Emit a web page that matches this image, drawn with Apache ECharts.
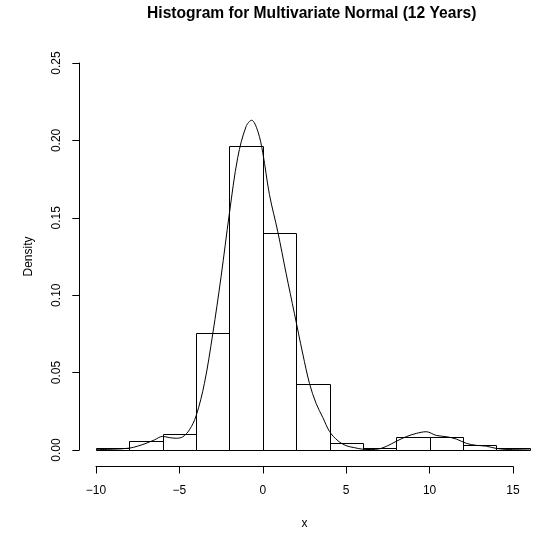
<!DOCTYPE html>
<html><head><meta charset="utf-8">
<script src="https://cdn.jsdelivr.net/npm/echarts@6/dist/echarts.min.js"></script>
<style>html,body{margin:0;padding:0;background:#fff}#c{width:539px;height:535px}</style>
</head><body><div id="c"></div>
<script>
const titleText = 'Histogram for Multivariate Normal (12 Years)';
const breaks = [-10,-8,-6,-4,-2,0,2,4,6,8,10,12,14,16];
const densities = [0.001,0.006,0.0104,0.0757,0.1966,0.1404,0.0428,0.0045,0.001,0.0082,0.0082,0.0032,0.001];
const curveX = [-10.0,-9.0,-8.0,-7.5,-7.0,-6.5,-6.0,-5.6,-5.2,-4.8,-4.4,-4.0,-3.5,-3.0,-2.5,-2.0,-1.5,-1.0,-0.67,-0.3,0.0,0.4,0.9,1.4,1.9,2.4,2.8,3.2,3.6,4.0,4.5,5.0,5.5,6.0,6.5,7.0,7.4,8.0,8.6,9.2,9.8,10.4,11.0,11.6,12.2,12.8,13.4,14.0,14.8,16.0];
const curveY = [0.0002,0.0005,0.0012,0.0025,0.0043,0.0065,0.0088,0.0080,0.0076,0.0085,0.0130,0.0220,0.043,0.075,0.112,0.153,0.189,0.209,0.213,0.206,0.192,0.165,0.141,0.114,0.088,0.062,0.043,0.030,0.021,0.012,0.006,0.0028,0.0015,0.0005,0.0003,0.0008,0.0023,0.0056,0.0086,0.0107,0.0118,0.0094,0.0086,0.0071,0.0043,0.0030,0.0025,0.0010,0.0003,0.0];
const xTicks = [-10,-5,0,5,10,15];
const yTicks = [0,0.05,0.10,0.15,0.20,0.25];
const xLabel = 'x';
const yLabel = 'Density';

const FONT = '"Liberation Sans", Arial, Helvetica, sans-serif';
const binData = densities.map((d, i) => [breaks[i], breaks[i+1], d]);
const lineData = curveX.map((x, i) => [x, curveY[i]]);

const chart = echarts.init(document.getElementById('c'), null, {renderer: 'canvas'});
chart.setOption({
  animation: false,
  backgroundColor: '#fff',
  title: {
    text: titleText, left: 311.7, top: 6, textAlign: 'center', padding: 0,
    textStyle: {fontFamily: FONT, fontSize: 15.6, fontWeight: 'bold', color: '#000'}
  },
  grid: [
    {left: 79.3, top: 63, width: 458.7, height: 387, containLabel: false},
    {left: 96, top: 63, width: 417, height: 403.5, containLabel: false}
  ],
  xAxis: [
    {gridIndex: 0, type: 'value', min: -11, max: 16.5, show: false},
    {gridIndex: 1, type: 'value', min: xTicks[0], max: xTicks[xTicks.length-1], interval: 5,
     axisLine: {show: true, onZero: false, lineStyle: {color: '#000', width: 1}},
     axisTick: {show: true, inside: false, length: 7, lineStyle: {color: '#000', width: 1}},
     axisLabel: {margin: 18, color: '#000', fontFamily: FONT, fontSize: 12,
       formatter: v => xTicks.includes(v) ? String(v).replace('-', '\u2212') : ''},
     splitLine: {show: false},
     name: xLabel, nameLocation: 'middle', nameGap: 51,
     nameTextStyle: {color: '#000', fontFamily: FONT, fontSize: 12}}
  ],
  yAxis: [
    {gridIndex: 0, type: 'value', min: yTicks[0], max: yTicks[yTicks.length-1], interval: 0.05,
     axisLine: {show: true, onZero: false, lineStyle: {color: '#000', width: 1}},
     axisTick: {show: true, inside: false, length: 7, lineStyle: {color: '#000', width: 1}},
     axisLabel: {margin: 17, rotate: 90, color: '#000', fontFamily: FONT, fontSize: 12,
       formatter: v => v.toFixed(2)},
     splitLine: {show: false},
     name: yLabel, nameLocation: 'middle', nameGap: 45,
     nameTextStyle: {color: '#000', fontFamily: FONT, fontSize: 12}},
    {gridIndex: 1, type: 'value', min: 0, max: 1, show: false}
  ],
  series: [
    {
      type: 'custom', xAxisIndex: 0, yAxisIndex: 0, clip: false,
      data: binData,
      encode: {x: [0, 1], y: 2},
      renderItem: function (params, api) {
        const p0 = api.coord([api.value(0), api.value(2)]);
        const p1 = api.coord([api.value(1), 0]);
        return {type: 'rect',
          shape: {x: Math.round(p0[0]) + 0.5, y: Math.round(p0[1]) + 0.5,
                  width: Math.round(p1[0]) - Math.round(p0[0]), height: Math.round(p1[1]) - Math.round(p0[1])},
          style: {fill: 'rgba(0,0,0,0)', stroke: '#000', lineWidth: 1}};
      },
      silent: true, z: 2
    },
    {
      type: 'line', xAxisIndex: 0, yAxisIndex: 0, data: lineData,
      showSymbol: false, smooth: 0.35, clip: false,
      lineStyle: {color: '#000', width: 1}, silent: true, z: 3
    }
  ]
});
</script>
</body></html>
